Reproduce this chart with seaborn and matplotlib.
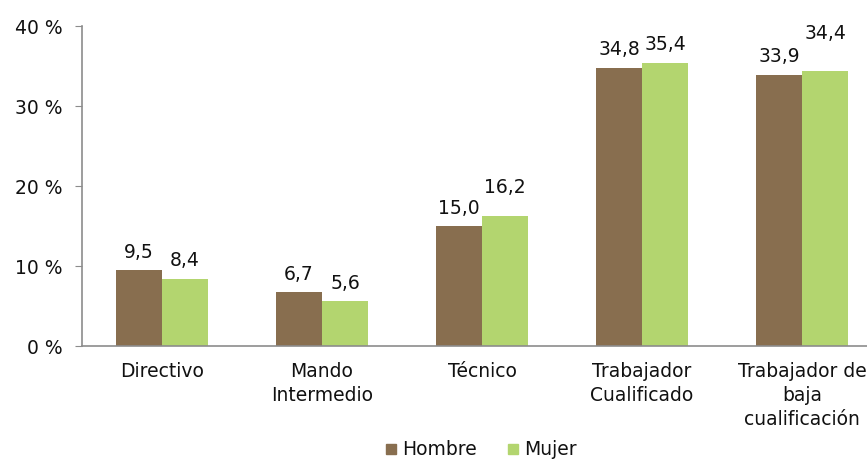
import pandas as pd
import matplotlib
matplotlib.use("Agg")
import matplotlib.pyplot as plt
import seaborn as sns
from matplotlib.lines import Line2D

categorias = ["Directivo", "Mando\nIntermedio", "Técnico", "Trabajador\nCualificado",
              "Trabajador de\nbaja\ncualificación"]
hombre = [9.5, 6.7, 15.0, 34.8, 33.9]
mujer = [8.4, 5.6, 16.2, 35.4, 34.4]
series = ["Hombre", "Mujer"]
colores = ["#886E4F", "#B3D56F"]
y_ticks = [0, 10, 20, 30, 40]

df = pd.DataFrame({
    "categoria": categorias * 2,
    "sexo": ["Hombre"] * len(categorias) + ["Mujer"] * len(categorias),
    "valor": hombre + mujer,
})

sns.set_style("white")
plt.rcParams["font.family"] = ["DejaVu Sans"]
plt.rcParams["text.color"] = "#111111"
fs = 13.5

fig = plt.figure(figsize=(8.67, 4.69), dpi=100)
ax = fig.add_axes([82 / 867, 123 / 469, 800 / 867, 320 / 469])

sns.barplot(data=df, x="categoria", y="valor", hue="sexo", palette=colores,
            width=0.575, saturation=1, linewidth=0, ax=ax, legend=False)

# etiquetas de valor (Excel sube algunas para evitar solapes)
extra = {("Mujer", 2): 8, ("Mujer", 4): 14}
for cont, nombre in zip(ax.containers, series):
    for i, bar in enumerate(cont):
        v = bar.get_height()
        ax.annotate(f"{v:.1f}".replace(".", ","),
                    (bar.get_x() + bar.get_width() / 2, v),
                    xytext=(0, 6 + extra.get((nombre, i), 0)), textcoords="offset points",
                    ha="center", va="bottom", fontsize=fs, color="#111111")

ax.set_xlim(-0.5, 4.5)
ax.set_ylim(0, 40)
ax.set_yticks(y_ticks)
ax.set_yticklabels([f"{t} %" for t in y_ticks])
ax.set_xlabel("")
ax.set_ylabel("")
for s in ["top", "right"]:
    ax.spines[s].set_visible(False)
for s in ["left", "bottom"]:
    ax.spines[s].set_color("#8c8c8c")
    ax.spines[s].set_linewidth(1.2)
ax.tick_params(axis="y", left=True, length=5, color="#8c8c8c", labelcolor="#111111",
               pad=9, labelsize=fs)
ax.tick_params(axis="x", bottom=False, pad=8, labelsize=fs, labelcolor="#111111")
for t in ax.get_xticklabels():
    t.set_linespacing(1.33)

handles = [Line2D([], [], marker="s", linestyle="", markersize=7.5,
                  markerfacecolor=c, markeredgecolor=c) for c in colores]
fig.legend(handles, series, loc="lower center", bbox_to_anchor=(478 / 867, -0.015),
           ncol=2, frameon=False, fontsize=fs, handletextpad=0.0, columnspacing=1.3,
           handlelength=1.2)

fig.savefig("out.png", dpi=100)
